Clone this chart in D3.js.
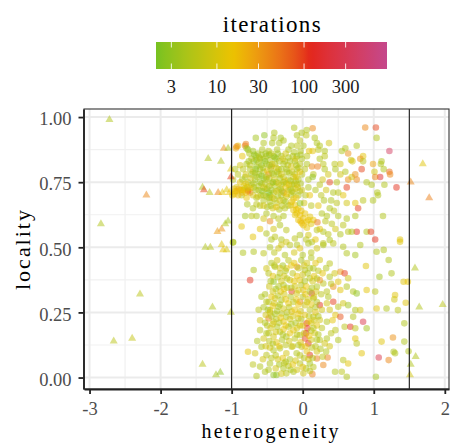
<!DOCTYPE html>
<html><head><meta charset="utf-8">
<script src="https://cdn.jsdelivr.net/npm/d3@7"></script>
<style>body{margin:0;background:#fff}svg{display:block}</style>
</head><body><svg id="c" width="452" height="446"></svg>
<script>
// ---------- data ----------
const xTicks = [-3, -2, -1, 0, 1, 2];
const yTicks = [0, 0.25, 0.5, 0.75, 1];
const legendBreaks = [3, 10, 30, 100, 300];
const referenceLines = [-1, 1.5];
const paletteColours = ["#77c221", "#ecc300", "#e3261b", "#c4488c"];

// [heterogeneity, locality, iterations] – triangles (outside reference band)
const outsidePoints = [
[-2.72,0.99,5],[-2.20,0.70,40],[-2.84,0.59,5],[-1.33,0.84,5],[-1.15,0.83,5],[-1.11,0.88,35],[-1.05,0.88,4],
[-1.01,0.80,12],[-1.01,0.77,100],[-1.41,0.73,5],[-1.39,0.72,90],[-1.31,0.71,6],[-1.19,0.71,40],[-1.13,0.71,14],
[-1.07,0.72,12],[-1.03,0.71,16],[-1.05,0.60,4],[-1.09,0.59,5],[-1.14,0.57,35],[-1.20,0.56,30],[-1.37,0.50,5],
[-1.30,0.50,6],[-1.14,0.51,12],[-1.12,0.49,14],[-1.07,0.49,10],[-2.29,0.32,6],[-1.27,0.27,5],[-1.01,0.25,6],
[-2.66,0.14,6],[-2.40,0.15,7],[-1.41,0.05,6],[-1.22,0.01,4],[-1.16,0.02,3],
[1.69,0.82,12],[1.52,0.75,40],[1.78,0.69,45],[1.58,0.42,5],[1.64,0.27,5],[1.97,0.28,6],[1.59,0.08,5],[1.52,0.05,5],[1.51,0.01,9]
];

// circles: upper-right scatter
const upperRight = [
[0.88,0.96,40],[1.03,0.96,90],[1.04,0.92,5],[1.22,0.87,400],[0.60,0.88,5],[0.76,0.89,5],[0.55,0.87,5],[0.64,0.86,35],
[0.68,0.835,9],[0.70,0.83,9],[0.85,0.85,13],[0.81,0.84,35],[0.85,0.83,6],[0.83,0.80,90],[0.99,0.82,25],[1.11,0.83,5],
[1.10,0.82,5],[1.14,0.80,5],[1.01,0.79,9],[1.22,0.79,60],[1.23,0.78,40],[1.09,0.77,150],[1.02,0.77,40],[1.32,0.73,110],
[1.15,0.74,5],[0.97,0.74,5],[0.90,0.75,5],[0.76,0.76,40],[0.64,0.76,35],[0.69,0.77,9],[0.74,0.78,35],[0.62,0.73,100],
[0.53,0.82,9],[0.45,0.82,6],[0.60,0.79,5],[0.53,0.78,9],[0.46,0.80,5],[0.36,0.78,9],[0.31,0.80,5],[0.29,0.82,6],
[0.38,0.75,90],[0.48,0.75,6],[0.57,0.70,13],[0.50,0.71,6],[0.43,0.71,5],[0.62,0.67,9],[0.48,0.67,6],[0.38,0.65,5],
[0.74,0.67,13],[0.85,0.68,6],[0.99,0.68,5],[1.05,0.71,5],[1.06,0.70,5],[0.78,0.65,100],[0.74,0.62,5],[1.13,0.62,5],
[0.62,0.61,5],[0.57,0.585,6],[0.50,0.62,5],[0.41,0.59,6],[0.46,0.57,9],[0.53,0.55,5],[0.64,0.56,6],[0.76,0.56,110],
[0.69,0.56,5],[0.90,0.56,5],[0.96,0.56,100],[1.02,0.53,110],[1.37,0.53,12],[0.36,0.55,6],[0.29,0.56,5],[0.24,0.57,13],
[0.26,0.70,6],[0.30,0.68,5],[0.33,0.72,9],[0.27,0.63,5],[0.32,0.60,6],[0.22,0.66,13],[0.40,0.68,5],[0.28,0.76,9],
[0.34,0.62,5],[0.44,0.64,6]
];

// circles: upper cluster
const upperCluster = [
[-0.12,0.959,5],[0.14,0.957,40],[0.056,0.95,5],[-0.014,0.94,5],[-0.08,0.93,5],[0.05,0.93,6],[-0.40,0.94,5],[-0.66,0.92,4],
[-0.54,0.93,3],[-0.41,0.92,5],[-0.31,0.92,4],[-0.27,0.91,5],[-0.33,0.90,5],[-0.43,0.90,5],[-0.55,0.90,5],[-0.04,0.91,6],
[0.17,0.92,5],[0.20,0.90,5],[0.24,0.89,5],[0.37,0.90,9],[0.09,0.87,13],[0.14,0.87,13],[0.22,0.875,6],[0.31,0.87,5],
[0.31,0.85,6],[0.24,0.84,5],[-0.08,0.85,3],[-0.14,0.85,5],[-0.20,0.875,5],[-0.16,0.89,5],[-0.08,0.89,6],[0.01,0.89,5],
[0.06,0.85,6],[-0.01,0.84,5],
[-0.94,0.88,20],[-0.91,0.89,14],[-0.81,0.89,45],[-0.93,0.887,40],[-0.80,0.896,45],[-0.77,0.875,3],[-0.79,0.88,4],[-0.85,0.85,14],
[-0.69,0.83,3],[-0.65,0.835,3],[-0.60,0.84,5],[-0.55,0.84,5],[-0.51,0.85,5],[-0.46,0.835,5],[-0.41,0.85,5],[-0.37,0.84,5],
[-0.30,0.85,5],[-0.25,0.83,6],[-0.18,0.83,5],[-0.11,0.83,5],[-0.04,0.82,6],[-0.79,0.82,5],[-0.88,0.815,9],[-0.95,0.80,5],
[-0.84,0.80,6],[-0.74,0.80,5],[-0.65,0.81,4],[-0.58,0.815,3],[-0.51,0.82,5],[-0.44,0.81,25],[-0.39,0.82,5],[-0.34,0.80,6],
[-0.30,0.80,5],[-0.23,0.80,5],[-0.15,0.79,9],[-0.08,0.80,5],[-0.01,0.78,6],[-0.91,0.78,6],[-0.81,0.77,5],[-0.72,0.78,3],
[-0.62,0.78,5],[-0.55,0.79,5],[-0.48,0.78,40],[-0.41,0.78,5],[-0.34,0.78,5],[-0.27,0.77,6],[-0.20,0.76,5],[-0.13,0.77,9],
[-0.06,0.76,5],[-0.98,0.76,6],[-0.88,0.75,14],[-0.77,0.75,5],[-0.67,0.76,4],[-0.58,0.745,5],[-0.51,0.76,5],[-0.44,0.745,14],
[-0.37,0.75,5],[-0.30,0.74,6],[-0.23,0.745,5],[-0.15,0.74,5],[-0.08,0.74,9],[0.13,0.81,40],[0.21,0.81,45],[0.15,0.78,6],
[0.08,0.76,5],[0.14,0.77,3],[0.24,0.74,6],[0.08,0.73,5],[-0.01,0.72,9],[-0.93,0.73,9],[-0.84,0.72,14],[-0.77,0.72,60],
[-0.74,0.71,45],[-0.69,0.73,5],[-0.62,0.72,5],[-0.53,0.725,6],[-0.48,0.71,2],[-0.46,0.70,3],[-0.41,0.71,5],[-0.34,0.72,5],
[-0.27,0.71,35],[-0.20,0.72,5],[-0.13,0.71,6],[-0.06,0.70,5],[-0.86,0.70,6],[-0.79,0.69,14],[-0.65,0.69,5],[-0.55,0.68,5],
[-0.46,0.675,5],[-0.37,0.67,6],[-0.27,0.68,5],[-0.20,0.66,5],
[-0.75,0.86,5],[-0.70,0.87,4],[-0.63,0.86,5],[-0.57,0.875,5],[-0.48,0.87,6],[-0.36,0.875,5],[-0.24,0.86,9],[-0.12,0.865,5],
[-0.03,0.87,5],[-0.72,0.84,6],[-0.62,0.825,5],[-0.53,0.83,3],[-0.43,0.82,9],[-0.33,0.83,5],[-0.21,0.815,6],[-0.09,0.815,5],
[-0.70,0.79,9],[-0.60,0.80,5],[-0.50,0.795,14],[-0.45,0.80,5],[-0.36,0.79,5],[-0.19,0.785,5],[-0.11,0.78,6],[-0.04,0.79,14],
[-0.85,0.76,5],[-0.73,0.765,9],[-0.64,0.77,5],[-0.55,0.765,3],[-0.47,0.765,6],[-0.40,0.76,9],[-0.32,0.765,5],[-0.25,0.755,14],
[-0.17,0.755,5],[-0.10,0.755,6],[-0.03,0.745,5],[-0.72,0.74,6],[-0.62,0.735,5],[-0.55,0.73,9],[-0.47,0.735,5],[-0.39,0.735,5],
[-0.31,0.725,6],[-0.24,0.73,14],[-0.17,0.725,5],[-0.10,0.725,9],[-0.04,0.715,6],[-0.70,0.70,9],[-0.59,0.70,5],[-0.51,0.695,6],
[-0.43,0.69,14],[-0.35,0.695,5],[-0.30,0.70,5],[-0.23,0.695,9],[-0.16,0.70,5],[-0.09,0.69,14],[-0.60,0.66,6],[-0.50,0.655,5],
[-0.42,0.65,9],[-0.33,0.645,5],[-0.25,0.65,6],[-0.70,0.65,5],[-0.78,0.665,5],[-0.35,0.86,4],[-0.47,0.855,3],[-0.58,0.855,4],
[-0.66,0.85,5],[0.03,0.80,6],[0.06,0.82,5],[0.04,0.70,6],[0.10,0.70,14],[0.18,0.72,5],[0.02,0.67,9],[0.12,0.66,6],
[-0.99,0.70,14],[-0.95,0.715,16],[-0.88,0.72,14],[-0.81,0.727,12],[-0.77,0.715,50],[-0.74,0.727,14],[-0.91,0.70,18],
[-0.97,0.725,14],[-0.85,0.71,20],[-0.83,0.735,9],
[-0.96,0.705,14],[-0.90,0.725,22],[-0.86,0.72,13],[-0.80,0.71,16],[-0.93,0.715,18],[-0.78,0.73,9]
];

// circles: upper cluster, densest core
const upperCore = [
[-0.76,0.83,4],[-0.68,0.855,3],[-0.61,0.845,5],[-0.52,0.86,4],[-0.44,0.86,6],[-0.39,0.845,3],[-0.28,0.84,9],[-0.20,0.845,5],
[-0.10,0.84,9],[-0.03,0.855,5],[-0.74,0.815,6],[-0.66,0.80,3],[-0.56,0.805,5],[-0.47,0.815,4],[-0.37,0.805,9],[-0.27,0.82,5],
[-0.16,0.81,9],[-0.06,0.805,6],[-0.80,0.78,9],[-0.67,0.785,4],[-0.58,0.775,3],[-0.51,0.77,6],[-0.43,0.785,5],[-0.30,0.78,9],
[-0.22,0.79,5],[-0.09,0.77,13],[-0.80,0.745,13],[-0.69,0.745,5],[-0.60,0.75,4],[-0.53,0.745,6],[-0.42,0.75,3],[-0.34,0.745,9],
[-0.27,0.75,5],[-0.19,0.74,13],[-0.12,0.745,6],[-0.66,0.72,5],[-0.57,0.715,3],[-0.50,0.725,6],[-0.44,0.72,4],[-0.37,0.715,9],
[-0.29,0.715,5],[-0.22,0.705,13],[-0.15,0.715,6],[-0.07,0.73,9],[-0.63,0.695,9],[-0.55,0.70,5],[-0.47,0.69,4],[-0.40,0.685,6],
[-0.32,0.68,9],[-0.24,0.675,5],[-0.13,0.685,13],[-0.65,0.665,6],[-0.55,0.66,9],[-0.45,0.66,5],[-0.37,0.655,13],[-0.29,0.66,6]
];

// circles: gold cluster and middle band
const middleBand = [
[-0.155,0.675,14],[-0.108,0.662,14],[-0.061,0.649,15],[-0.131,0.643,14],[-0.085,0.630,15],[-0.038,0.624,16],[0.009,0.611,15],
[0.056,0.598,14],[-0.014,0.592,16],[-0.061,0.605,15],[-0.108,0.624,13],[0.033,0.630,14],[0.103,0.617,13],[0.080,0.605,15],
[0.150,0.605,14],[0.207,0.596,50],[-0.038,0.669,3],[-0.169,0.662,12],[-0.03,0.60,18],[0.01,0.585,16],[0.06,0.575,14],
[-0.09,0.645,14],[0.12,0.59,12],[-0.02,0.64,15],
[-0.51,0.63,5],[-0.65,0.62,5],[-0.72,0.62,6],[-0.55,0.61,9],[-0.46,0.60,40],[-0.41,0.62,5],[-0.34,0.61,6],[-0.27,0.62,5],
[-0.32,0.585,5],[-0.41,0.57,9],[-0.23,0.566,6],[-0.51,0.553,5],[-0.60,0.57,13],[-0.39,0.54,6],[-0.30,0.53,5],[-0.23,0.52,9],
[-0.11,0.534,6],[-0.04,0.547,5],[0.08,0.547,9],[0.20,0.566,6],[0.13,0.52,5],[0.29,0.515,6],[0.38,0.528,5],
[-0.81,0.62,4],[-0.86,0.58,13],[-0.70,0.54,13],[-0.98,0.52,5],
[-0.40,0.48,6],[-0.25,0.47,5],[-0.12,0.48,9],[0.0,0.47,5],[0.12,0.48,6],[-0.30,0.51,9],[-0.08,0.51,5],[0.05,0.53,6],
[0.18,0.53,13],[-0.44,0.53,5]
];

// circles: lower cluster
const lowerCluster = [
[-0.98,0.518,5],[-0.84,0.479,5],[-0.69,0.483,5],[-0.55,0.477,6],[-0.46,0.50,5],[-0.34,0.496,9],[-0.18,0.509,6],[-0.04,0.496,13],
[0.08,0.515,5],[0.20,0.496,9],[0.29,0.509,5],[0.43,0.515,6],[0.57,0.502,5],[0.62,0.477,5],[0.74,0.47,4],[0.81,0.509,5],
[1.04,0.483,5],[1.14,0.49,5],[1.21,0.451,5],[1.37,0.521,12],
[-0.69,0.413,5],[-0.74,0.374,110],[-0.51,0.419,9],[-0.39,0.425,5],[-0.32,0.40,6],[-0.23,0.419,13],[-0.08,0.425,35],[0.03,0.413,6],
[0.15,0.419,5],[0.24,0.451,9],[0.38,0.438,6],[0.53,0.406,30],[0.59,0.40,100],[0.64,0.381,9],[0.50,0.368,13],[0.38,0.387,5],
[0.29,0.361,6],[0.89,0.428,12],[1.08,0.387,4],[1.25,0.40,5],[1.42,0.368,12],[1.48,0.368,14],
[-0.41,0.368,3],[-0.27,0.355,5],[-0.18,0.374,9],[-0.04,0.374,13],[0.10,0.381,6],[0.20,0.349,5],[0.24,0.374,35],[-0.155,0.33,100],
[-0.085,0.323,9],[0.009,0.336,13],[0.127,0.323,200],[0.34,0.33,6],[0.43,0.349,35],[0.53,0.336,13],[0.62,0.349,5],[0.71,0.33,5],
[0.76,0.323,3],[0.90,0.336,13],[1.02,0.33,6],[1.30,0.317,12],[1.29,0.30,9],[1.45,0.287,12],
[-0.58,0.31,5],[-0.51,0.291,6],[-0.39,0.304,9],[-0.30,0.298,5],[-0.20,0.285,13],[-0.04,0.291,35],[0.03,0.278,9],[0.15,0.304,6],
[0.24,0.278,110],[0.34,0.285,9],[0.43,0.291,100],[0.50,0.272,6],[0.57,0.285,9],[0.64,0.278,4],[0.74,0.259,5],[0.81,0.259,9],
[1.04,0.265,12],[1.18,0.265,5],[1.34,0.259,6],[-0.46,0.259,9],[-0.34,0.272,5],
[-0.48,0.227,40],[-0.41,0.214,9],[-0.30,0.246,6],[-0.23,0.233,5],[-0.155,0.253,13],[-0.06,0.227,9],[0.056,0.208,110],[0.066,0.189,100],
[0.047,0.17,120],[0.033,0.15,90],[0.08,0.131,110],[0.15,0.233,6],[0.24,0.221,9],[0.34,0.214,5],[0.46,0.24,13],[0.53,0.233,80],
[0.59,0.195,6],[0.67,0.195,110],[0.74,0.189,6],[0.85,0.214,250],[0.90,0.189,4],[0.71,0.233,5],[1.43,0.208,5],
[-0.60,0.182,6],[-0.51,0.17,5],[-0.41,0.157,9],[-0.32,0.176,6],[-0.23,0.157,5],[-0.13,0.182,13],[-0.04,0.163,6],[0.17,0.17,9],
[0.24,0.144,6],[0.34,0.15,5],[0.31,0.131,9],[0.46,0.182,6],[0.50,0.144,5],[0.74,0.15,13],[0.76,0.131,6],[1.11,0.138,12],
[1.27,0.154,35],[1.43,0.138,5],[1.49,0.101,5],
[-0.77,0.099,13],[-0.67,0.093,9],[-0.58,0.118,5],[-0.51,0.086,6],[-0.41,0.105,5],[-0.32,0.112,5],[-0.23,0.093,9],[-0.155,0.118,6],
[-0.085,0.093,5],[-0.014,0.118,9],[0.10,0.086,110],[0.20,0.073,45],[0.35,0.077,45],[0.57,0.067,6],[0.64,0.054,13],[0.83,0.093,13],
[1.07,0.077,250],[1.21,0.067,40],[1.28,0.099,5],[1.30,0.093,5],
[-0.60,0.042,5],[-0.53,0.022,5],[-0.41,0.01,3],[-0.37,0.01,3],[-0.65,0.006,5],[-0.27,0.035,5],[-0.23,0.016,6],[-0.13,0.022,5],
[0.009,0.016,9],[0.10,0.054,4],[0.136,0.013,45],[0.29,0.048,40],[-0.04,0.054,6],[-0.46,0.054,5],[0.55,0.022,6],[0.62,0.003,5],
[1.03,0.003,4],[0.455,0.022,5],
[-0.44,0.44,5],[-0.36,0.45,9],[-0.28,0.43,4],[-0.20,0.45,6],[-0.12,0.44,13],[-0.02,0.45,5],[0.06,0.44,9],[0.12,0.46,5],
[-0.48,0.40,6],[-0.42,0.39,13],[-0.35,0.385,5],[-0.26,0.39,9],[-0.14,0.40,6],[-0.08,0.39,14],[0.0,0.395,9],[0.07,0.40,5],
[0.16,0.39,13],[0.22,0.41,6],[-0.47,0.35,9],[-0.38,0.34,4],[-0.31,0.33,13],[-0.22,0.345,5],[-0.11,0.35,9],[-0.02,0.355,6],
[0.05,0.35,14],[0.13,0.345,5],[0.19,0.33,9],[0.26,0.32,6],[-0.53,0.32,5],[-0.44,0.31,13],[-0.35,0.315,6],[-0.26,0.32,9],
[-0.17,0.31,5],[-0.09,0.30,13],[0.0,0.31,6],[0.08,0.30,9],[0.12,0.28,13],[0.20,0.29,5],[0.27,0.26,9],[-0.55,0.27,5],
[-0.49,0.26,4],[-0.42,0.275,13],[-0.36,0.255,5],[-0.27,0.265,9],[-0.19,0.27,6],[-0.11,0.26,13],[-0.03,0.255,9],[0.10,0.26,6],
[0.18,0.25,13],[0.22,0.235,5],[-0.52,0.24,9],[-0.44,0.235,5],[-0.37,0.225,6],[-0.27,0.215,13],[-0.18,0.225,9],[-0.10,0.21,5],
[-0.02,0.225,6],[0.12,0.21,9],[0.20,0.20,13],[0.27,0.19,6],[-0.50,0.20,6],[-0.45,0.19,9],[-0.36,0.195,5],[-0.27,0.185,13],
[-0.20,0.195,6],[-0.08,0.19,9],[0.0,0.20,13],[0.12,0.18,6],[0.22,0.165,5],[-0.55,0.15,9],[-0.47,0.14,6],[-0.37,0.135,13],
[-0.29,0.145,5],[-0.19,0.14,9],[-0.11,0.15,6],[-0.03,0.135,13],[0.12,0.145,9],[0.18,0.12,6],[0.25,0.11,5],[-0.46,0.115,9],
[-0.38,0.085,6],[-0.28,0.075,13],[-0.18,0.07,5],[-0.10,0.065,9],[0.02,0.075,6],[0.06,0.10,13],[-0.33,0.05,4],[-0.20,0.045,6],
[-0.08,0.03,9],[0.05,0.035,5],[-0.48,0.03,5],[-0.30,0.015,9],[0.15,0.04,6],[0.20,0.10,9],[0.28,0.08,6],[0.33,0.10,5],
[0.38,0.12,9],[0.40,0.17,6],[0.42,0.22,13],[0.38,0.26,9],[0.36,0.31,5],[0.40,0.36,6],[0.45,0.40,9],[0.33,0.42,5],
[0.28,0.40,13],[-0.62,0.26,6],[-0.60,0.22,9],[-0.64,0.14,5],[-0.70,0.05,6],[-0.56,0.07,9]
];

// circles: lower cluster, densest core
const lowerCore = [
[-0.40,0.43,6],[-0.32,0.42,9],[-0.24,0.41,5],[-0.16,0.43,13],[-0.06,0.42,6],[0.02,0.43,9],[0.10,0.42,5],[0.18,0.44,13],
[-0.45,0.37,5],[-0.30,0.37,9],[-0.22,0.38,6],[-0.12,0.37,13],[0.03,0.37,5],[0.14,0.37,9],[0.20,0.38,6],
[-0.42,0.33,9],[-0.34,0.35,5],[-0.26,0.34,13],[-0.16,0.345,6],[-0.06,0.335,9],[0.04,0.32,14],[0.10,0.33,5],[0.16,0.31,9],
[-0.48,0.29,6],[-0.40,0.285,9],[-0.32,0.28,5],[-0.24,0.30,13],[-0.13,0.29,6],[-0.06,0.28,14],[0.06,0.29,9],[0.18,0.27,5],
[-0.46,0.25,9],[-0.39,0.245,5],[-0.31,0.23,13],[-0.22,0.25,6],[-0.14,0.235,9],[-0.06,0.245,14],[0.03,0.24,13],[0.09,0.235,6],
[0.16,0.22,9],[-0.53,0.21,5],[-0.42,0.205,9],[-0.33,0.21,6],[-0.24,0.20,13],[-0.16,0.205,5],[-0.04,0.20,9],[0.08,0.215,13],
[0.15,0.19,6],[-0.48,0.17,6],[-0.38,0.175,9],[-0.28,0.165,5],[-0.18,0.17,13],[-0.08,0.165,6],[0.02,0.17,9],[0.09,0.16,14],
[0.20,0.145,5],[-0.52,0.12,9],[-0.42,0.13,5],[-0.33,0.12,13],[-0.24,0.125,6],[-0.14,0.12,9],[-0.06,0.125,5],[0.04,0.12,13],
[0.13,0.115,6],[-0.44,0.075,6],[-0.35,0.07,9],[-0.24,0.06,5],[-0.14,0.05,13],[-0.04,0.085,6],[0.08,0.07,9],[0.14,0.075,5],
[-0.38,0.035,9],[-0.26,0.055,6],[-0.17,0.03,5],[0.00,0.04,13],[0.10,0.025,6]
];

// ---------- chart ----------
const svg = d3.select("#c");
const font = "'Liberation Serif', serif";
const panel = {left: 84, right: 449, top: 109, bottom: 389};

const x = d3.scaleLinear().domain([-3.078, 2.059]).range([panel.left, panel.right]);
const y = d3.scaleLinear().domain([-0.044, 1.031]).range([panel.bottom, panel.top]);

const logT = d3.scaleLog().domain([2, 895]).range([0, 1]).clamp(true);
const colourOf = d3.scaleLinear().domain([0, 1/3, 2/3, 1]).range(paletteColours).interpolate(d3.interpolateLab);
const colour = v => colourOf(logT(v));

// panel background + grid
svg.append("rect").attr("x", panel.left).attr("y", panel.top)
  .attr("width", panel.right - panel.left).attr("height", panel.bottom - panel.top).attr("fill", "#fff");
const grid = svg.append("g");
const xMinor = [-2.5, -1.5, -0.5, 0.5, 1.5];
const yMinor = [0.125, 0.375, 0.625, 0.875];
grid.selectAll(".xm").data(xMinor).join("line")
  .attr("x1", d => x(d)).attr("x2", d => x(d)).attr("y1", panel.top).attr("y2", panel.bottom)
  .attr("stroke", "#f1f1f1").attr("stroke-width", 1.2);
grid.selectAll(".ym").data(yMinor).join("line")
  .attr("x1", panel.left).attr("x2", panel.right).attr("y1", d => y(d)).attr("y2", d => y(d))
  .attr("stroke", "#f1f1f1").attr("stroke-width", 1.2);
grid.selectAll(".xM").data(xTicks).join("line")
  .attr("x1", d => x(d)).attr("x2", d => x(d)).attr("y1", panel.top).attr("y2", panel.bottom)
  .attr("stroke", "#ebebeb").attr("stroke-width", 2);
grid.selectAll(".yM").data(yTicks).join("line")
  .attr("x1", panel.left).attr("x2", panel.right).attr("y1", d => y(d)).attr("y2", d => y(d))
  .attr("stroke", "#ebebeb").attr("stroke-width", 2);

// points
const circles = [].concat(upperRight, upperCluster, upperCore, middleBand, lowerCluster, lowerCore);
const pts = svg.append("g");
pts.selectAll("circle").data(circles).join("circle")
  .attr("cx", d => x(d[0])).attr("cy", d => y(d[1])).attr("r", 3.3)
  .attr("fill", d => colour(d[2])).attr("fill-opacity", 0.5);
const tri = d3.symbol().type(d3.symbolTriangle).size(28);
pts.selectAll("path").data(outsidePoints).join("path")
  .attr("d", tri).attr("transform", d => `translate(${x(d[0])},${y(d[1])})`)
  .attr("fill", d => colour(d[2])).attr("fill-opacity", 0.5);

// reference lines
svg.append("g").selectAll("line").data(referenceLines).join("line")
  .attr("x1", d => x(d)).attr("x2", d => x(d)).attr("y1", panel.top).attr("y2", panel.bottom)
  .attr("stroke", "#000").attr("stroke-width", 1);

// panel border
svg.append("rect").attr("x", panel.left).attr("y", panel.top)
  .attr("width", panel.right - panel.left).attr("height", panel.bottom - panel.top)
  .attr("fill", "none").attr("stroke", "#333").attr("stroke-width", 1.1);

// axes
const xAxis = d3.axisBottom(x).tickValues(xTicks).tickSize(5).tickSizeOuter(0).tickPadding(8)
  .tickFormat(d => d < 0 ? "-" + Math.abs(d) : String(d));
const gx = svg.append("g").attr("transform", `translate(0,${panel.bottom})`).call(xAxis);
const yAxis = d3.axisLeft(y).tickValues(yTicks).tickSize(5).tickSizeOuter(0).tickPadding(7)
  .tickFormat(d3.format(".2f"));
const gy = svg.append("g").attr("transform", `translate(${panel.left - 0.5},0)`).call(yAxis);
[gx, gy].forEach(g => {
  g.select(".domain").attr("stroke", "#222").attr("stroke-width", 1.8);
  g.selectAll(".tick line").attr("stroke", "#222").attr("stroke-width", 1.8);
  g.selectAll(".tick text").attr("fill", "#4d4d4d").style("font-family", font).style("font-size", "18.5px");
});
gy.selectAll(".tick text").attr("dy", "0.42em");

// axis titles
svg.append("text").attr("x", 270).attr("y", 438).attr("text-anchor", "middle")
  .style("font-family", font).style("font-size", "20px").attr("fill", "#000")
  .attr("textLength", 137).attr("lengthAdjust", "spacing").text("heterogeneity");
svg.append("text").attr("transform", "translate(29.5,250) rotate(-90)").attr("text-anchor", "middle")
  .style("font-family", font).style("font-size", "22px").attr("fill", "#000")
  .attr("textLength", 80).attr("lengthAdjust", "spacing").text("locality");

// legend
const leg = {left: 156, right: 387, top: 42, bottom: 69};
const lx = d3.scaleLog().domain([2, 895]).range([leg.left, leg.right]);
const defs = svg.append("defs");
const grad = defs.append("linearGradient").attr("id", "g").attr("x1", "0%").attr("x2", "100%");
d3.range(0, 1.0001, 0.02).forEach(t => grad.append("stop").attr("offset", (t * 100) + "%").attr("stop-color", colourOf(t)));
svg.append("rect").attr("x", leg.left).attr("y", leg.top).attr("width", leg.right - leg.left)
  .attr("height", leg.bottom - leg.top).attr("fill", "url(#g)");
const lt = svg.append("g");
lt.selectAll(".t1").data(legendBreaks).join("line")
  .attr("x1", d => lx(d)).attr("x2", d => lx(d)).attr("y1", leg.top).attr("y2", leg.top + 5.5)
  .attr("stroke", "#fff").attr("stroke-opacity", 0.85).attr("stroke-width", 1);
lt.selectAll(".t2").data(legendBreaks).join("line")
  .attr("x1", d => lx(d)).attr("x2", d => lx(d)).attr("y1", leg.bottom - 5.5).attr("y2", leg.bottom)
  .attr("stroke", "#fff").attr("stroke-opacity", 0.85).attr("stroke-width", 1);
lt.selectAll("text").data(legendBreaks).join("text")
  .attr("x", d => lx(d)).attr("y", 93).attr("text-anchor", "middle")
  .style("font-family", font).style("font-size", "18.5px").attr("fill", "#1a1a1a").text(d => d);
svg.append("text").attr("x", 271.7).attr("y", 31.5).attr("text-anchor", "middle")
  .style("font-family", font).style("font-size", "23px").attr("fill", "#000")
  .attr("textLength", 98).attr("lengthAdjust", "spacing").text("iterations");
</script></body></html>
